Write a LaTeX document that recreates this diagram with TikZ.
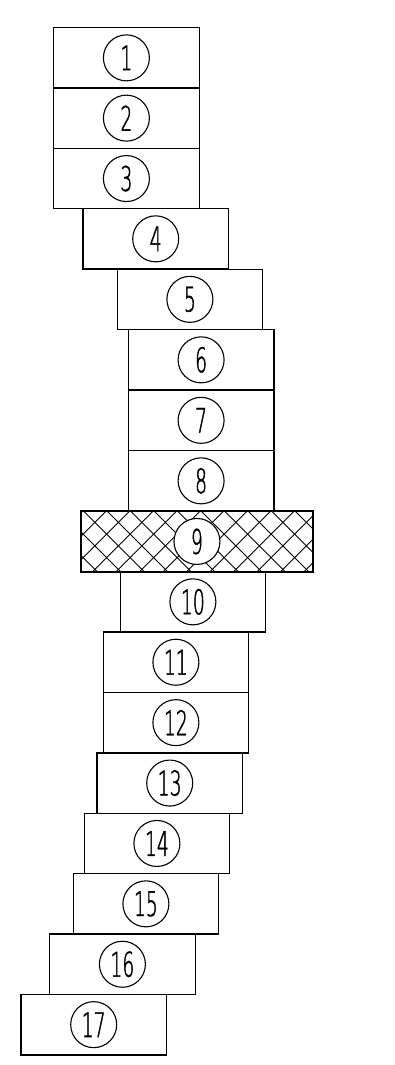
\documentclass[tikz,border=0pt]{standalone}
\usepackage{fontspec}
\newfontfamily\digitfont[FakeStretch=0.55,FakeBold=1.2]{DejaVu Sans ExtraLight}
\begin{document}
\begin{tikzpicture}[x=1pt,y=-1pt,
  blockbox/.style={draw,line width=1.3pt,rectangle,inner sep=0pt,minimum width=145.5pt,minimum height=60.4pt,anchor=north west},
  wideblock/.style={blockbox,minimum width=232pt},
  numcirc/.style={draw,line width=1.1pt,circle,inner sep=0pt,minimum size=46pt,fill=white,font=\digitfont\fontsize{34}{34}\selectfont},
  hatchline/.style={line width=0.9pt}]
\useasboundingbox (0,0) rectangle (395,1065);
\node[blockbox] (b1) at (53,27) {};
\node[blockbox] (b2) at (53,87.3) {};
\node[blockbox] (b3) at (53,147.7) {};
\node[blockbox] (b4) at (82.3,208) {};
\node[blockbox] (b5) at (116.5,268.5) {};
\node[blockbox] (b6) at (127.7,329) {};
\node[blockbox] (b7) at (127.7,389.5) {};
\node[blockbox] (b8) at (127.7,450) {};
\node[wideblock] (b9) at (80.3,510.6) {};
\node[blockbox] (b10) at (119.5,571) {};
\node[blockbox] (b11) at (102.5,631.4) {};
\node[blockbox] (b12) at (102.5,691.8) {};
\node[blockbox] (b13) at (96.3,752.2) {};
\node[blockbox] (b14) at (83.5,812.6) {};
\node[blockbox] (b15) at (72.5,873) {};
\node[blockbox] (b16) at (49,933.4) {};
\node[blockbox] (b17) at (20.3,993.8) {};
% hatching of block 9
\begin{scope}
  \clip (b9.north west) rectangle (b9.south east);
  \foreach \k in {-4,...,12}{
    \draw[hatchline] ({106.7+23.5*\k},510.6) -- ++(61,61);
    \draw[hatchline] ({106.7+23.5*\k},510.6) -- ++(-61,61);
  }
\end{scope}
\draw[line width=1.3pt] (b9.north west) rectangle (b9.south east);
\foreach \i in {1,...,17}{
  \node[numcirc] (c\i) at (b\i.center) {\i};
}
\end{tikzpicture}
\end{document}
